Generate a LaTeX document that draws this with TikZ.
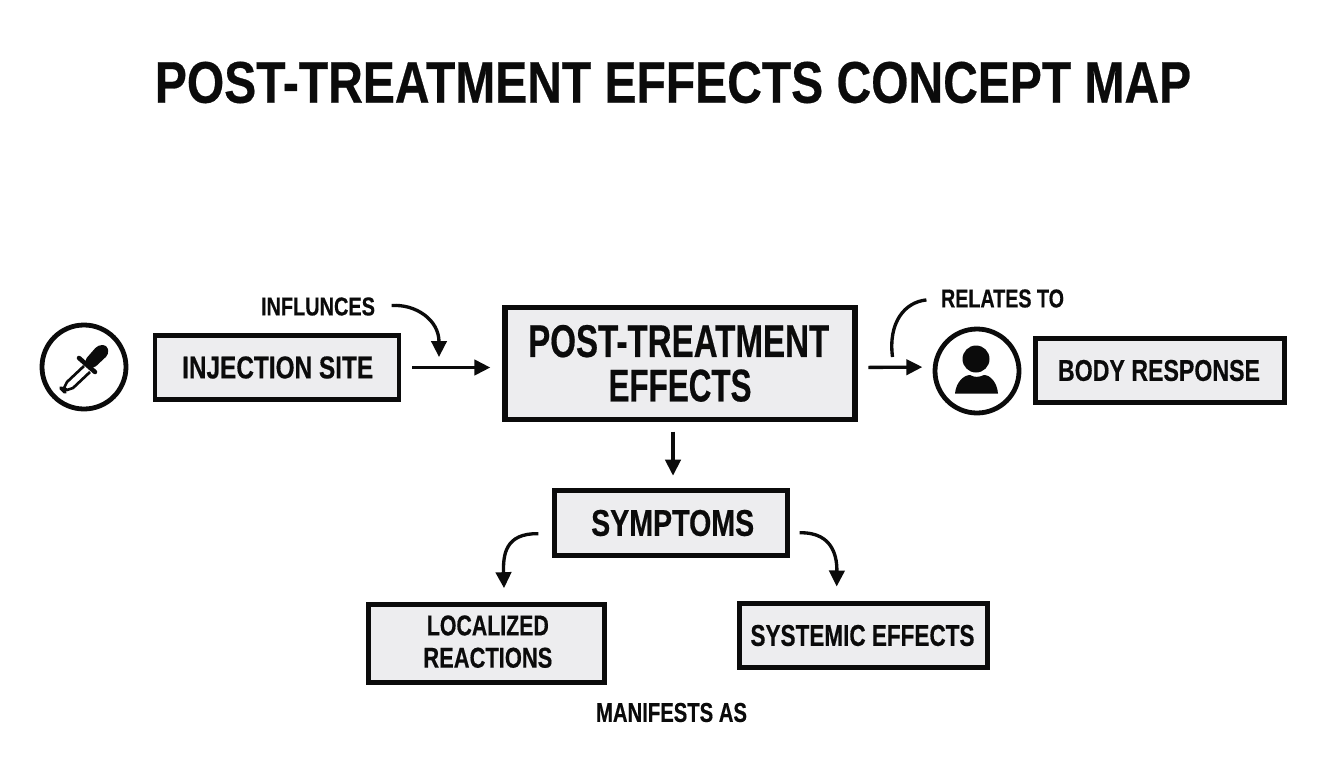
\documentclass[tikz,border=0pt]{standalone}
\usepackage{fontspec}
\usepackage{graphicx}
\setmainfont{Liberation Sans}[BoldFeatures={FakeBold=0.5}]
\usetikzlibrary{arrows.meta}
\definecolor{ink}{HTML}{0B0B0B}
\definecolor{boxfill}{HTML}{EDEDEF}
% text set to an exact width and cap height, both in reference pixels
\newcommand{\lbl}[3]{\resizebox{\dimexpr #1pt*3/4\relax}{\dimexpr #2pt*3/4\relax}{\bfseries #3}}
\newcommand{\twolines}[3]{\vbox{\offinterlineskip\halign{\hfil##\hfil\cr #1\cr\noalign{\vskip #3}#2\cr}}}
\tikzset{
  x=0.75pt,y=-0.75pt,
  box/.style={draw=ink,fill=boxfill,line width=3.6pt,inner sep=0pt,text=ink,outer sep=0pt},
  word/.style={inner sep=0pt,outer sep=0pt,text=ink},
  ring/.style={draw=ink,fill=white,circle,line width=3.6pt,inner sep=0pt,outer sep=0pt,minimum size=63pt},
  conn/.style={draw=ink,line width=2.5pt},
  arr/.style={conn,-{Triangle[length=12pt,width=11.5pt]}},
}
\begin{document}
\begin{tikzpicture}
\useasboundingbox (0,0) rectangle (1344,768);
\fill[white] (0,0) rectangle (1344,768);

\node[word] (title) at (673,82.5) {\lbl{1036}{41}{POST-TREATMENT EFFECTS CONCEPT MAP}};

\node[ring] (dropper) at (84,367) {};
\node[box,minimum width=183pt,minimum height=48pt] (inj) at (277,367.5) {\hspace*{1pt}\lbl{191}{22}{INJECTION SITE}};
\node[box,minimum width=262.5pt,minimum height=84pt,line width=3.8pt] (main) at (680,363.5)
  {\raisebox{0.5pt}{\twolines{\hspace*{-2pt}\lbl{301}{32}{POST-TREATMENT}}{\lbl{143}{32}{EFFECTS}}{9pt}}};
\node[ring] (person) at (977,371) {};
\node[box,minimum width=187pt,minimum height=48.5pt] (body) at (1160,370.5) {\raisebox{-0.5pt}{\hspace*{-1.5pt}\lbl{202}{21}{BODY RESPONSE}}};
\node[box,minimum width=175pt,minimum height=49pt] (sym) at (671,523) {\raisebox{-0.7pt}{\hspace*{2.5pt}\lbl{163}{26}{SYMPTOMS}}};
\node[box,minimum width=177.5pt,minimum height=59pt] (loc) at (486.5,643.5)
  {\raisebox{3pt}{\hspace*{2pt}\twolines{\lbl{122}{20}{LOCALIZED}}{\lbl{129}{20}{REACTIONS}}{9pt}}};
\node[box,minimum width=186.5pt,minimum height=48.5pt] (sys) at (863.5,635.5) {\hspace*{-1.5pt}\lbl{224}{21}{SYSTEMIC EFFECTS}};

\node[word] (inf) at (318,306.5) {\lbl{114}{18}{INFLUNCES}};
\node[word] (rel) at (1002.5,298.5) {\lbl{123}{18}{RELATES TO}};
\node[word] (man) at (671.5,712.5) {\lbl{151}{19}{MANIFESTS AS}};

% dropper glyph
\fill[ink,rounded corners=3pt] (84,361) -- (98,345) -- (107,345) -- (109,354) -- (93,369) -- cycle;
\draw[ink,line width=3.4pt,line cap=round] (79,358) -- (95,372);
\draw[ink,fill=white,line width=2pt,line join=round] (84,366) -- (67,382) -- (64,388) -- (67,390) -- (73,388) -- (90,372);
\draw[ink,line width=2.8pt,line cap=round] (61,388) -- (65,392);

% person glyph
\fill[ink] (976,359) circle[radius=13.5];
\fill[ink] (955,393.5) .. controls (956,382) and (964,375) .. (970,375) .. controls (974,377.5) and (979,377.5) .. (984,375)
  .. controls (990,375) and (997,382) .. (998,393.5) -- cycle;

\coordinate (relend) at (892.5,357);
\coordinate (infend) at (439,357);

\draw[arr,shorten <=10pt,shorten >=11pt] ([yshift=-0pt]inj.east) -- ([yshift=-3pt]main.west);
\draw[arr,shorten <=10pt,shorten >=9.5pt] ([yshift=-3pt]main.east) -- ([yshift=3pt]person.west);
\draw[arr,shorten <=9pt,shorten >=11pt] ([xshift=-5.25pt]main.south) -- ([xshift=1.5pt]sym.north);
\draw[arr,shorten <=12.5pt] (inf.east) .. controls (416,304) and (439,320) .. (infend);
\draw[conn,shorten <=11pt] (rel.west) .. controls (905,302) and (888,322) .. (relend);
\draw[arr,shorten <=12pt,shorten >=12pt] ([yshift=-8.25pt]sym.west) .. controls (505,533) and (503,555) .. ([xshift=13.5pt]loc.north);
\draw[arr,shorten <=9pt,shorten >=12.5pt] ([yshift=-7.5pt]sym.east) .. controls (835,532) and (837,560) .. ([xshift=-20.25pt]sys.north);
\end{tikzpicture}
\end{document}
